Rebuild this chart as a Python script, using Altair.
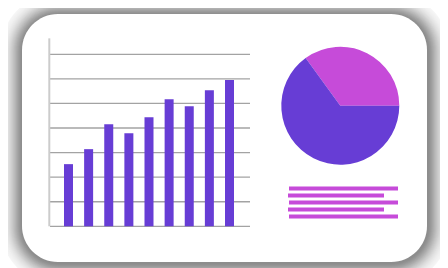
import altair as alt
import pandas as pd
import numpy as np

# ---- data ----
categories = ["A", "B", "C", "D", "E", "F", "G", "H", "I"]
bar_values = [2.53, 3.14, 4.15, 3.79, 4.44, 5.17, 4.89, 5.54, 5.95]
grid_values = [0, 1, 2, 3, 4, 5, 6, 7]
axis_top = 7.65
pie_parts = ["Part A", "Part B"]
pie_shares = [35, 65]
line_rows = [1, 2, 3, 4, 5]
line_starts = [1, 0, 1, 0, 1]
line_ends = [110, 96, 110, 96, 110]

PURPLE = "#673dd5"
PINK = "#c64bd9"
W, H = 432, 260

dummy = pd.DataFrame({"d": [0]})

# ---- card shadow (decoration) ----
N = 22
def T(d):
    return 0.42 * np.exp(-((d / 11.6) ** 1.47))
def S(d):
    return 1.0 if d >= N else 1 - T(d)

layers = []
ox, oy = 0.5, 1.0
for k in range(N, 0, -1):
    a = 1 - S(k - 1) / S(k)
    layers.append(
        alt.Chart(dummy).mark_rect(cornerRadius=36 + k, color="black", opacity=float(a)).encode(
            x=alt.value(14 - k + ox), x2=alt.value(419 + k + ox),
            y=alt.value(6 - k + oy), y2=alt.value(254 + k + oy),
        )
    )

card = alt.Chart(dummy).mark_rect(cornerRadius=36, color="white").encode(
    x=alt.value(14), x2=alt.value(419), y=alt.value(6), y2=alt.value(254)
)
layers.append(card)

yscale = alt.Scale(domain=[0, 8], range=[218.3, 218.3 - 8 * 24.57])

grid_df = pd.DataFrame({"v": grid_values})
grid = alt.Chart(grid_df).mark_rule(color="#a3a3a3", strokeWidth=1.3).encode(
    y=alt.Y("v:Q", scale=yscale, axis=None),
    x=alt.value(42), x2=alt.value(242),
)

axis_df = pd.DataFrame({"y0": [0], "y1": [axis_top]})
axis_line = alt.Chart(axis_df).mark_rule(color="#cccccc", strokeWidth=2).encode(
    y=alt.Y("y0:Q", scale=yscale, axis=None),
    y2="y1:Q",
    x=alt.value(41.3),
)

bar_df = pd.DataFrame({"cat": categories, "val": bar_values})
bars = alt.Chart(bar_df).mark_bar(color=PURPLE).encode(
    x=alt.X("cat:N", sort=None, axis=None,
            scale=alt.Scale(range=[56, 226], paddingInner=0.553, paddingOuter=0)),
    y=alt.Y("val:Q", scale=yscale, axis=None),
)

pie_df = pd.DataFrame({"part": pie_parts, "share": pie_shares, "o": [0, 1]})
start = np.deg2rad(90 - 360 * pie_shares[0] / sum(pie_shares))
if start < 0:
    start += 2 * np.pi
pie = alt.Chart(pie_df).mark_arc(outerRadius=59).encode(
    theta=alt.Theta("share:Q", stack=True,
                    scale=alt.Scale(range=[float(start), float(start + 2 * np.pi)])),
    color=alt.Color("part:N", legend=None,
                    scale=alt.Scale(domain=pie_parts, range=[PINK, PURPLE])),
    order=alt.Order("o:Q"),
    x=alt.value(332.3), y=alt.value(97.7),
)

lines_df = pd.DataFrame({"row": line_rows, "s": line_starts, "e": line_ends})
text_lines = alt.Chart(lines_df).mark_rule(color=PINK, strokeWidth=4, strokeCap="butt").encode(
    x=alt.X("s:Q", scale=alt.Scale(domain=[0, 110], range=[280, 390]), axis=None),
    x2="e:Q",
    y=alt.Y("row:O", axis=None, scale=alt.Scale(range=[177, 212], padding=0)),
)

layers += [grid, axis_line, bars, pie, text_lines]

chart = alt.layer(*layers).resolve_scale(
    x="independent", y="independent", color="independent", theta="independent"
).properties(
    width=W, height=H, padding=0, autosize=alt.AutoSizeParams(type="none"),
    background="white",
).configure_view(strokeWidth=0)

chart.save("out.html", embed_options={"renderer": "svg", "actions": False})
